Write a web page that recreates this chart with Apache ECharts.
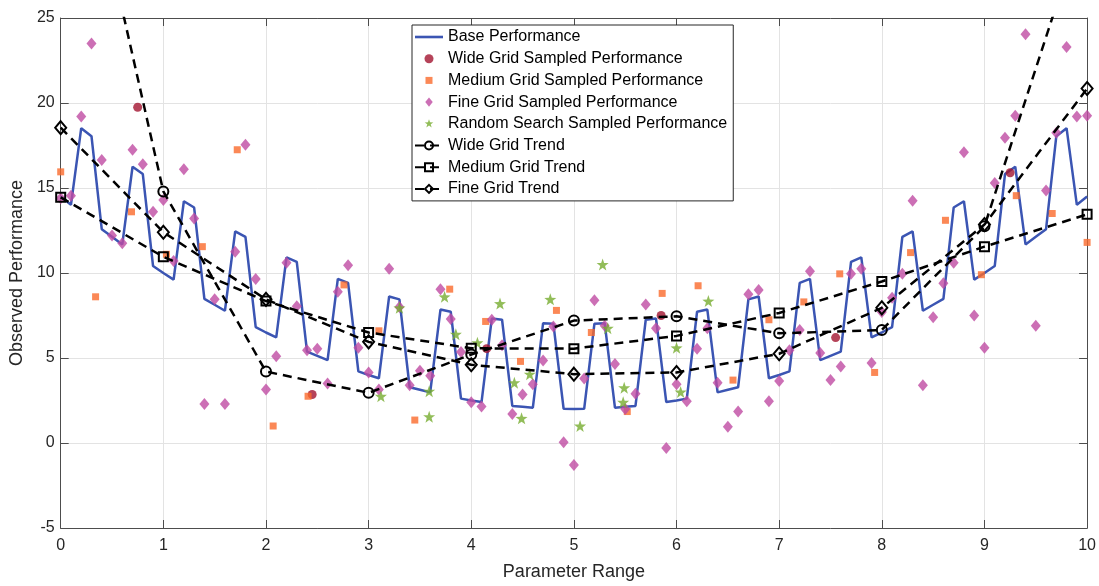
<!DOCTYPE html>
<html>
<head>
<meta charset="utf-8">
<script src="https://cdn.jsdelivr.net/npm/echarts@6/dist/echarts.min.js"></script>
<style>html,body{margin:0;padding:0;background:#fff;overflow:hidden;}#c{width:1099px;height:586px;}</style>
</head>
<body>
<div id="c"></div>
<script>
// ---- data ----
const fineX = [0,0.1,0.2,0.3,0.4,0.5,0.6,0.7,0.8,0.9,1,1.1,1.2,1.3,1.4,1.5,1.6,1.7,1.8,1.9,2,2.1,2.2,2.3,2.4,2.5,2.6,2.7,2.8,2.9,3,3.1,3.2,3.3,3.4,3.5,3.6,3.7,3.8,3.9,4,4.1,4.2,4.3,4.4,4.5,4.6,4.7,4.8,4.9,5,5.1,5.2,5.3,5.4,5.5,5.6,5.7,5.8,5.9,6,6.1,6.2,6.3,6.4,6.5,6.6,6.7,6.8,6.9,7,7.1,7.2,7.3,7.4,7.5,7.6,7.7,7.8,7.9,8,8.1,8.2,8.3,8.4,8.5,8.6,8.7,8.8,8.9,9,9.1,9.2,9.3,9.4,9.5,9.6,9.7,9.8,9.9,10];
const baseY = [14.5,14.01,18.52,18.05,12.58,12.13,11.68,16.25,15.82,10.41,10,9.61,14.22,13.85,8.48,8.13,7.78,12.45,12.12,6.81,6.5,6.21,10.92,10.65,5.38,5.13,4.88,9.65,9.42,4.21,4.0,3.81,8.62,8.45,3.28,3.13,2.98,7.85,7.72,2.61,2.5,2.41,7.32,7.25,2.18,2.13,2.08,7.05,7.02,2.01,2.0,2.01,7.02,7.05,2.08,2.13,2.18,7.25,7.32,2.41,2.5,2.61,7.72,7.85,2.98,3.13,3.28,8.45,8.62,3.81,4.0,4.21,9.42,9.65,4.88,5.13,5.38,10.65,10.92,6.21,6.5,6.81,12.12,12.45,7.78,8.13,8.48,13.85,14.22,9.61,10,10.41,15.82,16.25,11.68,12.13,12.58,18.05,18.52,14.01,14.5];
const fineY = [14.4,14.55,19.2,23.5,16.65,12.2,11.75,17.25,16.4,13.6,14.3,10.7,16.1,13.2,2.3,8.45,2.3,11.25,17.55,9.65,3.15,5.1,10.6,8.05,5.45,5.55,3.5,8.9,10.45,5.6,4.15,3.15,10.25,8.0,3.4,4.25,3.95,9.05,7.3,5.35,2.4,2.15,7.25,5.75,1.7,2.85,3.45,4.85,6.85,0.05,-1.3,3.8,8.4,6.9,4.65,2.0,2.9,8.15,6.75,-0.3,3.45,2.45,5.55,6.75,3.55,0.95,1.85,8.75,9.0,2.45,3.65,5.45,6.65,10.1,5.3,3.7,4.5,9.95,10.25,4.7,7.7,8.55,9.95,14.25,3.4,7.4,9.4,10.6,17.1,7.5,5.6,15.3,17.95,19.25,24.05,6.9,14.85,18.25,23.3,19.2,19.25];
const wideX = [0.75,2.45,4.15,5.85,7.55,9.25];
const wideY = [19.75,2.85,5.55,7.5,6.2,15.9];
const medX = [0,0.34,0.69,1.03,1.38,1.72,2.07,2.41,2.76,3.10,3.45,3.79,4.14,4.48,4.83,5.17,5.52,5.86,6.21,6.55,6.90,7.24,7.59,7.93,8.28,8.62,8.97,9.31,9.66,10];
const medY = [15.95,8.6,13.6,11.1,11.55,17.25,1.0,2.75,9.3,6.6,1.35,9.05,7.15,4.8,7.8,6.5,1.85,8.8,9.25,3.7,7.25,8.3,9.95,4.15,11.2,13.1,9.9,14.55,13.5,11.8];
const randX = [3.12,3.30,3.59,3.59,3.74,3.85,4.06,4.28,4.42,4.49,4.57,4.77,5.06,5.28,5.33,5.48,5.49,6.0,6.04,6.31];
const randY = [2.75,7.95,3.05,1.55,8.6,6.4,5.9,8.2,3.55,1.45,4.05,8.45,1.0,10.5,6.75,2.4,3.25,5.6,3.0,8.35];
const trendX = [0,1,2,3,4,5,6,7,8,9,10];
const wideTrendY = [41.5,14.8,4.2,2.95,5.2,7.2,7.45,6.45,6.65,12.75,31.3];
const medTrendY = [14.45,10.95,8.35,6.5,5.57,5.55,6.3,7.65,9.5,11.55,13.45];
const fineTrendY = [18.55,12.4,8.45,5.95,4.6,4.05,4.15,5.25,7.95,12.85,20.85];
const xTicks = [0,1,2,3,4,5,6,7,8,9,10];
const yTicks = [-5,0,5,10,15,20,25];
const names = ['Base Performance','Wide Grid Sampled Performance','Medium Grid Sampled Performance','Fine Grid Sampled Performance','Random Search Sampled Performance','Wide Grid Trend','Medium Grid Trend','Fine Grid Trend'];

const zip = (xs, ys) => xs.map((x, i) => [x, ys[i]]);
const FONT = '"Liberation Sans", Arial, Helvetica, sans-serif';
const STAR = 'path://M0,-10 L2.35,-3.24 L9.51,-3.09 L3.8,1.24 L5.88,8.09 L0,4 L-5.88,8.09 L-3.8,1.24 L-9.51,-3.09 L-2.35,-3.24 Z';
// legend icons (padded with move-to points so they stay small in the legend box)
const ICON_LINE = 'path://M0,-5 M28,5 M0,-1.3 L28,-1.3 L28,1.3 L0,1.3 Z';
const ICON_CIRCLE = 'path://M-5,-5 M5,5 M4.5,0 A4.5,4.5 0 1 1 -4.5,0 A4.5,4.5 0 1 1 4.5,0 Z';
const ICON_RECT = 'path://M-5,-5 M5,5 M-3.5,-3.5 L3.5,-3.5 L3.5,3.5 L-3.5,3.5 Z';
const ICON_DIAMOND = 'path://M-6,-6 M6,6 M0,-5.5 L4.5,0 L0,5.5 L-4.5,0 Z';
const ICON_STAR = 'path://M-11,-11 M11,11 M0,-10 L2.35,-3.24 L9.51,-3.09 L3.8,1.24 L5.88,8.09 L0,4 L-5.88,8.09 L-3.8,1.24 L-9.51,-3.09 L-2.35,-3.24 Z';
const axisCol = '#4d4d4d';
const txtCol = '#262626';

const chart = echarts.init(document.getElementById('c'), null, {renderer: 'canvas', width:1099, height:586});
const xCommon = {type:'value', min:xTicks[0], max:xTicks[xTicks.length-1], interval:1};
const yCommon = {type:'value', min:yTicks[0], max:yTicks[yTicks.length-1], interval:5};
const trendStyle = (sym, size) => ({
  type:'line', symbol:sym, symbolSize:size, showSymbol:true, z:5,
  lineStyle:{color:'#000', width:2.5, type:[9,6]},
  itemStyle:{color:'rgba(255,255,255,0)', borderColor:'#000', borderWidth:2},
  emphasis:{disabled:true}
});
chart.setOption({
  animation:false,
  grid:{left:59, top:18, width:1029, height:515, containLabel:false},
  legend:{
    orient:'vertical', left:412, top:25,
    padding:[4,6,4,2], itemWidth:28, itemHeight:10, itemGap:5.7,
    backgroundColor:'#fff', borderColor:'#262626', borderWidth:1,
    textStyle:{fontFamily:FONT, fontSize:16, color:'#000', lineHeight:16},
    data:[
      {name:names[0], icon:ICON_LINE},
      {name:names[1], icon:ICON_CIRCLE},
      {name:names[2], icon:ICON_RECT},
      {name:names[3], icon:ICON_DIAMOND},
      {name:names[4], icon:ICON_STAR},
      {name:names[5]},
      {name:names[6]},
      {name:names[7]}
    ]
  },
  xAxis:[
    Object.assign({}, xCommon, {
      position:'bottom',
      name:'Parameter Range', nameLocation:'middle', nameGap:35,
      nameTextStyle:{fontFamily:FONT, fontSize:18, color:txtCol},
      axisLine:{show:true, onZero:false, lineStyle:{color:axisCol, width:1}},
      axisTick:{show:true, inside:true, length:8, lineStyle:{color:axisCol}},
      axisLabel:{fontFamily:FONT, fontSize:16, color:txtCol, margin:10},
      splitLine:{show:true, lineStyle:{color:'#e3e3e3', width:1}}
    }),
    Object.assign({}, xCommon, {
      position:'top',
      axisLine:{show:true, onZero:false, lineStyle:{color:axisCol, width:1}},
      axisTick:{show:true, inside:true, length:8, lineStyle:{color:axisCol}},
      axisLabel:{show:false}, splitLine:{show:false}
    })
  ],
  yAxis:[
    Object.assign({}, yCommon, {
      position:'left',
      name:'Observed Performance', nameLocation:'middle', nameGap:31,
      nameTextStyle:{fontFamily:FONT, fontSize:18, color:txtCol},
      axisLine:{show:true, onZero:false, lineStyle:{color:axisCol, width:1}},
      axisTick:{show:true, inside:true, length:8, lineStyle:{color:axisCol}},
      axisLabel:{fontFamily:FONT, fontSize:16, color:txtCol, margin:6},
      splitLine:{show:true, lineStyle:{color:'#e3e3e3', width:1}}
    }),
    Object.assign({}, yCommon, {
      position:'right',
      axisLine:{show:true, onZero:false, lineStyle:{color:axisCol, width:1}},
      axisTick:{show:true, inside:true, length:8, lineStyle:{color:axisCol}},
      axisLabel:{show:false}, splitLine:{show:false}
    })
  ],
  series:[
    {name:names[0], type:'line', data:zip(fineX, baseY), symbol:'none', z:2,
     lineStyle:{color:'#3b55b3', width:2.5}, itemStyle:{color:'#3b55b3'}},
    {name:names[1], type:'scatter', data:zip(wideX, wideY), symbol:'circle', symbolSize:9, z:3,
     itemStyle:{color:'#a2142f'}},
    {name:names[2], type:'scatter', data:zip(medX, medY), symbol:'rect', symbolSize:7, z:3,
     itemStyle:{color:'#fa6a2c'}},
    {name:names[3], type:'scatter', data:zip(fineX, fineY), symbol:'diamond', symbolSize:[10,12], z:3,
     itemStyle:{color:'#bf4ba2'}},
    {name:names[4], type:'scatter', data:zip(randX, randY), symbol:STAR, symbolSize:12, z:3,
     itemStyle:{color:'#77ac30'}},
    Object.assign({name:names[5], data:zip(trendX, wideTrendY)}, trendStyle('circle', 10)),
    Object.assign({name:names[6], data:zip(trendX, medTrendY)}, trendStyle('rect', 9)),
    Object.assign({name:names[7], data:zip(trendX, fineTrendY)}, trendStyle('diamond', [11,13]))
  ]
});
</script>
</body>
</html>
